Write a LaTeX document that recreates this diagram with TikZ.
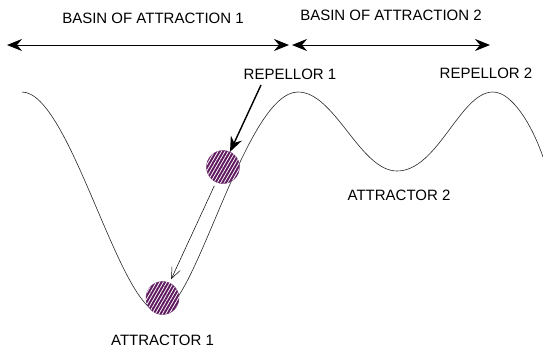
\documentclass[tikz,border=0pt]{standalone}
\usepackage{fontspec}
\setmainfont{Liberation Sans}
\usepackage{tikz}
\usetikzlibrary{positioning, arrows.meta, patterns.meta}
\usepackage{xcolor}
\definecolor{ballpurple}{RGB}{95,25,95}

\begin{document}
\begin{tikzpicture}[x=1pt, y=-1pt, node distance=12pt,
    lbl/.style={font=\fontsize{15}{18}\selectfont, inner sep=2pt},
    ball/.style={circle, draw=ballpurple, fill=ballpurple, inner sep=0pt, minimum size=33pt,
      postaction={pattern={Lines[angle=60, distance=3pt, line width=0.8pt]}, pattern color=white}},
    basinarrow/.style={{Stealth[length=15pt, width=12pt, inset=5pt]}-{Stealth[length=15pt, width=12pt, inset=5pt]}, line width=1pt}]
  \useasboundingbox (0,0) rectangle (543,349);
  % the landscape
  \draw[line width=0.6pt, black!85] (22,92) .. controls (70,92) and (120,312) .. (160,312)
    .. controls (195,312) and (245,92) .. (298,92)
    .. controls (335,92) and (360,171) .. (397,171)
    .. controls (438,171) and (460,92) .. (493,92)
    .. controls (512,92) and (532,125) .. (543,157);
  % basins
  \coordinate (b1l) at (7,45);
  \coordinate (b1r) at (289,45);
  \coordinate (b2l) at (292,45);
  \coordinate (b2r) at (490,45);
  \draw[basinarrow] (b1l) -- (b1r);
  \draw[basinarrow] (b2l) -- (b2r);
  \node[lbl] (basin1) at (153,18) {BASIN OF ATTRACTION 1};
  \node[lbl] (basin2) at (391,15) {BASIN OF ATTRACTION 2};
  % repellors and attractors
  \node[lbl] (rep1) at (290,74) {REPELLOR 1};
  \node[lbl] (rep2) at (486,73) {REPELLOR 2};
  \node[lbl] (att2) at (399,195) {ATTRACTOR 2};
  \node[ball] (ball1) at (223,167) {};
  \node[ball] (ball2) at (162.5,298) {};
  \node[lbl, below=18pt of ball2] (att1) {ATTRACTOR 1};
  \coordinate (rep1tail) at (261,85);
  \draw[-{Stealth[length=15pt, width=12pt, inset=5pt]}, line width=1.4pt] (rep1tail) -- (ball1);
  \draw[-{Straight Barb[length=11pt, width=9pt]}, line width=0.5pt,
        shorten <=4pt, shorten >=4pt] (ball1) -- (ball2);
\end{tikzpicture}
\end{document}
